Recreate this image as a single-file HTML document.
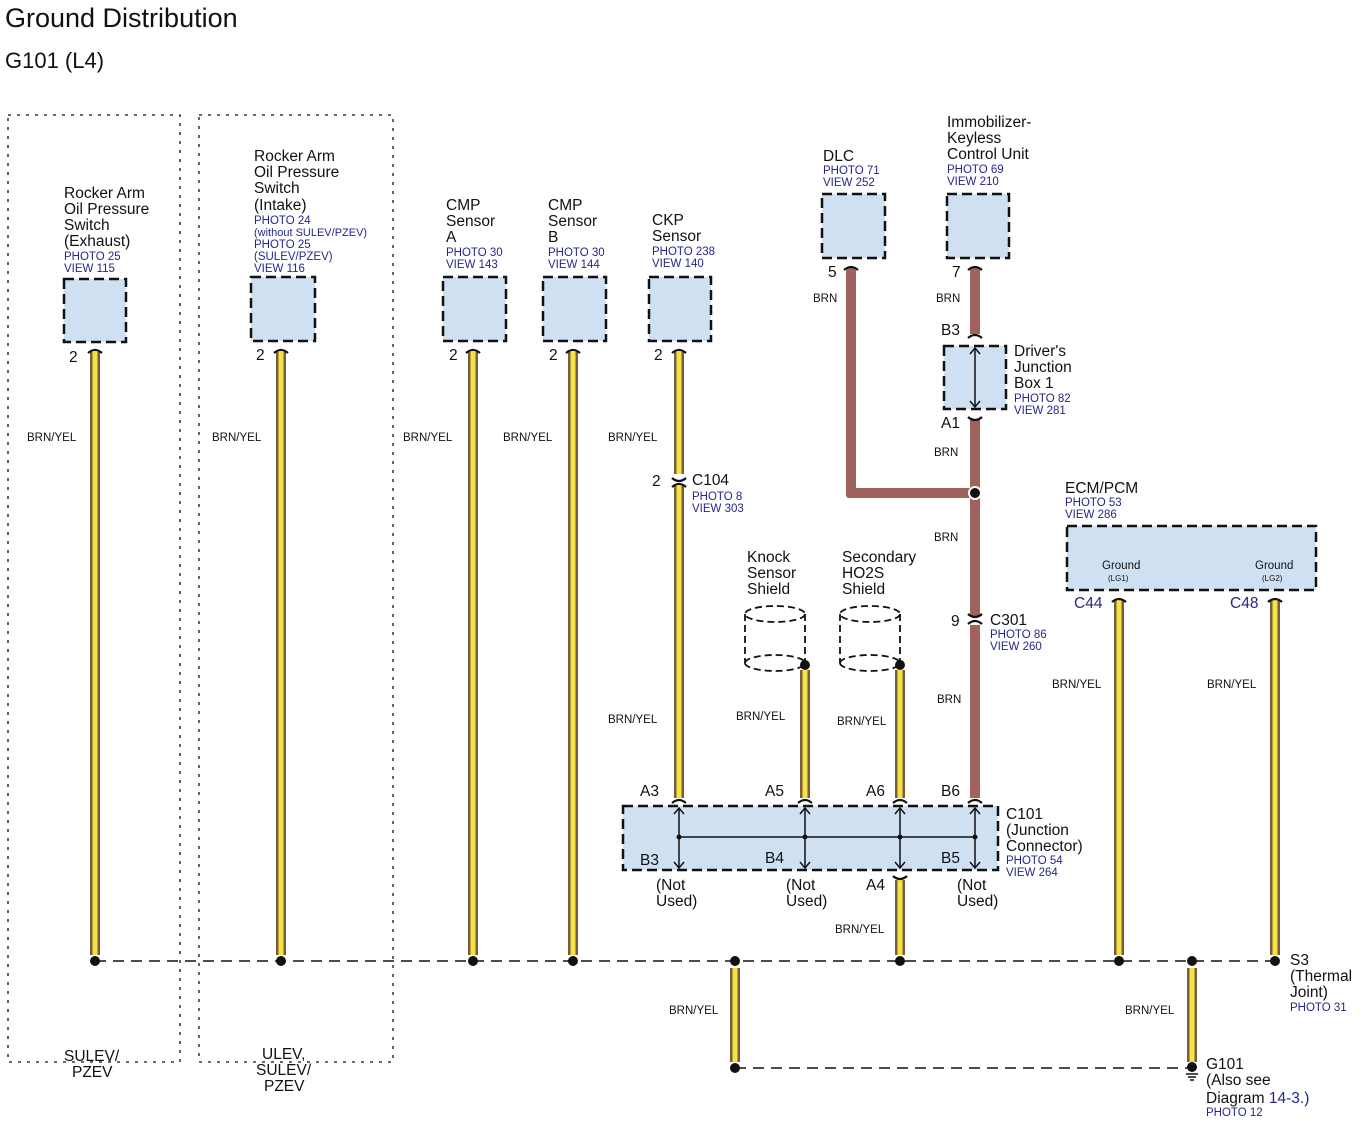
<!DOCTYPE html>
<html><head><meta charset="utf-8"><style>
body{margin:0;background:#fff}
svg{display:block}
text{font-family:"Liberation Sans",Arial,sans-serif;fill:#111}
.t{font-size:15.5px}
.b{font-size:11.5px;fill:#26268a}
.s{font-size:11.5px}
.box{fill:#cfe0f3;stroke:#111;stroke-width:2.5;stroke-dasharray:10,5}
.dash{fill:none;stroke:#111;stroke-width:1.3;stroke-dasharray:3,6}
.bus{fill:none;stroke:#111;stroke-width:1.5;stroke-dasharray:11,7}
.cap{fill:none;stroke:#111;stroke-width:2.2}
</style></head><body>
<svg width="1364" height="1132" viewBox="0 0 1364 1132" xmlns="http://www.w3.org/2000/svg">
<defs>
<g id="yw"><rect x="-5" y="0" width="10" height="1" fill="#7a5c3e"/><rect x="-2.5" y="0" width="5" height="1" fill="#f4e443"/></g>
</defs>
<text x="5" y="27" style="font-size:27px">Ground Distribution</text>
<text x="5" y="68" style="font-size:22px">G101 (L4)</text>

<rect class="dash" x="8" y="115" width="172" height="947"/>
<rect class="dash" x="199" y="115" width="194" height="947"/>
<text class="t" x="64" y="1061">SULEV/</text><text class="t" x="72" y="1077">PZEV</text>
<text class="t" x="262" y="1059">ULEV,</text><text class="t" x="256" y="1075">SULEV/</text><text class="t" x="264" y="1091">PZEV</text>

<g>
<use href="#yw" transform="translate(95,352) scale(1,603)"/>
<use href="#yw" transform="translate(281,352) scale(1,603)"/>
<use href="#yw" transform="translate(473,352) scale(1,603)"/>
<use href="#yw" transform="translate(573,352) scale(1,603)"/>
<use href="#yw" transform="translate(679,352) scale(1,122)"/>
<use href="#yw" transform="translate(679,486) scale(1,312)"/>
<use href="#yw" transform="translate(805,670) scale(1,128)"/>
<use href="#yw" transform="translate(900,670) scale(1,128)"/>
<use href="#yw" transform="translate(900,880) scale(1,75)"/>
<use href="#yw" transform="translate(1119,600) scale(1,355)"/>
<use href="#yw" transform="translate(1275,600) scale(1,355)"/>
<use href="#yw" transform="translate(735,968) scale(1,94)"/>
<use href="#yw" transform="translate(1192,968) scale(1,94)"/>
</g>
<g fill="#a0625c">
<rect x="846" y="268" width="10" height="230" rx="3"/>
<rect x="846" y="488" width="134" height="10" rx="3"/>
<rect x="970" y="268" width="10" height="66"/>
<rect x="970" y="420" width="10" height="196"/>
<rect x="970" y="625" width="10" height="173"/>
</g>

<rect class="box" x="64" y="279" width="62" height="63"/>
<rect class="box" x="251" y="277" width="64" height="64"/>
<rect class="box" x="443" y="277" width="63" height="64"/>
<rect class="box" x="543" y="277" width="63" height="64"/>
<rect class="box" x="649" y="277" width="62" height="64"/>
<rect class="box" x="822" y="194" width="63" height="64"/>
<rect class="box" x="947" y="194" width="62" height="64"/>
<rect class="box" x="944" y="346" width="62" height="63"/>
<rect class="box" x="1067" y="526" width="249" height="64"/>
<rect class="box" x="623" y="806" width="375" height="64"/>

<g class="cap">
<path d="M88,353 Q95,347 102,353"/><path d="M274,353 Q281,347 288,353"/>
<path d="M466,353 Q473,347 480,353"/><path d="M566,353 Q573,347 580,353"/>
<path d="M672,353 Q679,347 686,353"/>
<path d="M844,270 Q851,264 858,270"/><path d="M968,270 Q975,264 982,270"/>
<path d="M968,338 Q975,332 982,338"/><path d="M968,417 Q975,423 982,417"/>
<path d="M672,478 Q679,484 686,478"/><path d="M672,487 Q679,481 686,487"/>
<path d="M968,614 Q975,620 982,614"/><path d="M968,624 Q975,618 982,624"/>
<path d="M672,803 Q679,797 686,803"/><path d="M798,803 Q805,797 812,803"/>
<path d="M893,803 Q900,797 907,803"/><path d="M968,803 Q975,797 982,803"/>
<path d="M893,876 Q900,882 907,876"/>
<path d="M1112,602 Q1119,596 1126,602"/><path d="M1268,602 Q1275,596 1282,602"/>
</g>

<g stroke="#111" stroke-width="1.5" fill="none">
<line x1="975" y1="348" x2="975" y2="407"/><path d="M970,354 L975,348 L980,354 M970,401 L975,407 L980,401"/>
<line x1="679" y1="837" x2="975" y2="837"/>
<line x1="679" y1="808" x2="679" y2="868"/><line x1="805" y1="808" x2="805" y2="868"/>
<line x1="900" y1="808" x2="900" y2="868"/><line x1="975" y1="808" x2="975" y2="868"/>
<path d="M674,814 L679,808 L684,814 M674,862 L679,868 L684,862"/>
<path d="M800,814 L805,808 L810,814 M800,862 L805,868 L810,862"/>
<path d="M895,814 L900,808 L905,814 M895,862 L900,868 L905,862"/>
<path d="M970,814 L975,808 L980,814 M970,862 L975,868 L980,862"/>
</g>
<g fill="#111"><circle cx="679" cy="837" r="2.5"/><circle cx="805" cy="837" r="2.5"/><circle cx="900" cy="837" r="2.5"/><circle cx="975" cy="837" r="2.5"/></g>

<g fill="none" stroke="#111" stroke-width="1.8" stroke-dasharray="7,4">
<ellipse cx="775" cy="614" rx="30" ry="8"/><path d="M745,614 V663 M805,614 V663 M745,663 A30,8 0 0 0 805,663 M745,663 A30,8 0 0 1 805,663"/>
<ellipse cx="870" cy="614" rx="30" ry="8"/><path d="M840,614 V663 M900,614 V663 M840,663 A30,8 0 0 0 900,663 M840,663 A30,8 0 0 1 900,663"/>
</g>

<line class="bus" x1="95" y1="961" x2="1275" y2="961"/>
<line class="bus" x1="735" y1="1068" x2="1192" y2="1068"/>
<g fill="#111">
<circle cx="95" cy="961" r="5"/><circle cx="281" cy="961" r="5"/><circle cx="473" cy="961" r="5"/><circle cx="573" cy="961" r="5"/>
<circle cx="735" cy="961" r="5"/><circle cx="900" cy="961" r="5"/><circle cx="1119" cy="961" r="5"/><circle cx="1192" cy="961" r="5"/><circle cx="1275" cy="961" r="5"/>
<circle cx="735" cy="1068" r="5"/><circle cx="1192" cy="1067" r="5"/>
<circle cx="975" cy="493" r="6" stroke="#fff" stroke-width="2"/>
<circle cx="805" cy="665" r="5"/><circle cx="900" cy="665" r="5"/>
</g>
<g stroke="#111" stroke-width="1.5"><line x1="1186" y1="1074" x2="1198" y2="1074"/><line x1="1188" y1="1077" x2="1196" y2="1077"/><line x1="1190" y1="1080" x2="1194" y2="1080"/></g>

<text class="t" x="64" y="198">Rocker Arm</text><text class="t" x="64" y="214">Oil Pressure</text><text class="t" x="64" y="230">Switch</text><text class="t" x="64" y="246">(Exhaust)</text>
<text class="b" x="64" y="260">PHOTO 25</text><text class="b" x="64" y="272">VIEW 115</text>
<text class="t" x="254" y="161">Rocker Arm</text><text class="t" x="254" y="177">Oil Pressure</text><text class="t" x="254" y="193">Switch</text><text class="t" x="254" y="210">(Intake)</text>
<text class="b" x="254" y="224">PHOTO 24</text><text class="b" x="254" y="236" style="font-size:11px">(without SULEV/PZEV)</text><text class="b" x="254" y="248">PHOTO 25</text><text class="b" x="254" y="260">(SULEV/PZEV)</text><text class="b" x="254" y="272">VIEW 116</text>
<text class="t" x="446" y="210">CMP</text><text class="t" x="446" y="226">Sensor</text><text class="t" x="446" y="242">A</text>
<text class="b" x="446" y="256">PHOTO 30</text><text class="b" x="446" y="268">VIEW 143</text>
<text class="t" x="548" y="210">CMP</text><text class="t" x="548" y="226">Sensor</text><text class="t" x="548" y="242">B</text>
<text class="b" x="548" y="256">PHOTO 30</text><text class="b" x="548" y="268">VIEW 144</text>
<text class="t" x="652" y="225">CKP</text><text class="t" x="652" y="241">Sensor</text>
<text class="b" x="652" y="255">PHOTO 238</text><text class="b" x="652" y="267">VIEW 140</text>
<text class="t" x="823" y="161">DLC</text><text class="b" x="823" y="174">PHOTO 71</text><text class="b" x="823" y="186">VIEW 252</text>
<text class="t" x="947" y="127">Immobilizer-</text><text class="t" x="947" y="143">Keyless</text><text class="t" x="947" y="159">Control Unit</text>
<text class="b" x="947" y="173">PHOTO 69</text><text class="b" x="947" y="185">VIEW 210</text>
<text class="t" x="1014" y="356">Driver's</text><text class="t" x="1014" y="372">Junction</text><text class="t" x="1014" y="388">Box 1</text>
<text class="b" x="1014" y="402">PHOTO 82</text><text class="b" x="1014" y="414">VIEW 281</text>
<text class="t" x="1065" y="493">ECM/PCM</text><text class="b" x="1065" y="506">PHOTO 53</text><text class="b" x="1065" y="518">VIEW 286</text>
<text class="s" x="1102" y="569">Ground</text><text x="1108" y="581" style="font-size:8px">(LG1)</text>
<text class="s" x="1255" y="569">Ground</text><text x="1262" y="581" style="font-size:8px">(LG2)</text>
<text class="t" x="1074" y="608" style="fill:#26268a">C44</text><text class="t" x="1230" y="608" style="fill:#26268a">C48</text>
<text class="t" x="692" y="485">C104</text><text class="b" x="692" y="500">PHOTO 8</text><text class="b" x="692" y="512">VIEW 303</text>
<text class="t" x="652" y="486">2</text>
<text class="t" x="990" y="625">C301</text><text class="b" x="990" y="638">PHOTO 86</text><text class="b" x="990" y="650">VIEW 260</text>
<text class="t" x="951" y="626">9</text>
<text class="t" x="747" y="562">Knock</text><text class="t" x="747" y="578">Sensor</text><text class="t" x="747" y="594">Shield</text>
<text class="t" x="842" y="562">Secondary</text><text class="t" x="842" y="578">HO2S</text><text class="t" x="842" y="594">Shield</text>
<text class="t" x="1006" y="819">C101</text><text class="t" x="1006" y="835">(Junction</text><text class="t" x="1006" y="851">Connector)</text>
<text class="b" x="1006" y="864">PHOTO 54</text><text class="b" x="1006" y="876">VIEW 264</text>
<text class="t" x="640" y="796">A3</text><text class="t" x="765" y="796">A5</text><text class="t" x="866" y="796">A6</text><text class="t" x="941" y="796">B6</text>
<text class="t" x="640" y="865">B3</text><text class="t" x="765" y="863">B4</text><text class="t" x="941" y="863">B5</text>
<text class="t" x="866" y="890">A4</text>
<text class="t" x="656" y="890">(Not</text><text class="t" x="656" y="906">Used)</text>
<text class="t" x="786" y="890">(Not</text><text class="t" x="786" y="906">Used)</text>
<text class="t" x="957" y="890">(Not</text><text class="t" x="957" y="906">Used)</text>
<text class="t" x="1290" y="965">S3</text><text class="t" x="1290" y="981">(Thermal</text><text class="t" x="1290" y="997">Joint)</text><text class="b" x="1290" y="1011">PHOTO 31</text>
<text class="t" x="1206" y="1069">G101</text><text class="t" x="1206" y="1085">(Also see</text><text class="t" x="1206" y="1103">Diagram <tspan style="fill:#26268a">14-3.)</tspan></text><text class="b" x="1206" y="1116">PHOTO 12</text>
<text class="t" x="69" y="362">2</text><text class="t" x="256" y="360">2</text><text class="t" x="449" y="360">2</text><text class="t" x="549" y="360">2</text><text class="t" x="654" y="360">2</text>
<text class="t" x="828" y="277">5</text><text class="t" x="952" y="277">7</text>
<text class="t" x="941" y="335">B3</text><text class="t" x="941" y="428">A1</text>
<g class="s">
<text x="27" y="441">BRN/YEL</text><text x="212" y="441">BRN/YEL</text><text x="403" y="441">BRN/YEL</text><text x="503" y="441">BRN/YEL</text><text x="608" y="441">BRN/YEL</text>
<text x="813" y="302">BRN</text><text x="936" y="302">BRN</text><text x="934" y="456">BRN</text><text x="934" y="541">BRN</text><text x="937" y="703">BRN</text>
<text x="608" y="723">BRN/YEL</text><text x="736" y="720">BRN/YEL</text><text x="837" y="725">BRN/YEL</text>
<text x="1052" y="688">BRN/YEL</text><text x="1207" y="688">BRN/YEL</text>
<text x="835" y="933">BRN/YEL</text><text x="669" y="1014">BRN/YEL</text><text x="1125" y="1014">BRN/YEL</text>
</g>
</svg>
</body></html>
